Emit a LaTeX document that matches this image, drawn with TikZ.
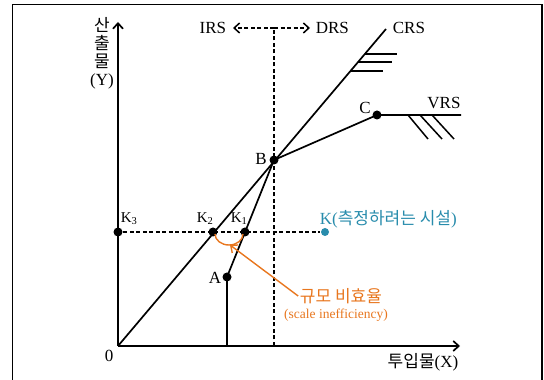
\documentclass[tikz,border=0pt]{standalone}
\usepackage{fontspec}
\setmainfont{Liberation Serif}
\newfontfamily\kr{Noto Sans CJK KR}
\usetikzlibrary{arrows.meta}
\definecolor{scaleorange}{RGB}{232,118,30}
\definecolor{targetteal}{RGB}{40,140,172}
\tikzset{
  blackdot/.style={circle,fill=black,inner sep=0pt,minimum size=9pt},
  lbl/.style={font=\fontsize{17}{18}\selectfont,inner sep=1pt},
  klbl/.style={font=\fontsize{15}{17}\selectfont,inner sep=1pt},
  guide/.style={dash pattern=on 4pt off 2.5pt,line width=1.5pt}
}
\begin{document}
\begin{tikzpicture}[x=1pt,y=1pt,>={Straight Barb[length=5.5pt,width=10pt]},line width=1.7pt]
                \useasboundingbox (0,0) rectangle (544,380);
                \draw[line width=1.3pt] (12.5,-5) -- (12.5,375.5) -- (542,375.5) -- (542,-5);
                \coordinate (O) at (118,34);
                \coordinate (ytop) at (118,358);
                \coordinate (xend) at (460,34);
                \coordinate (crsend) at (386,351);
                \coordinate (vrsend) at (461,265);
                \coordinate (afoot) at (227,34);
                \coordinate (bfoot) at (274,34);
                \coordinate (split) at (274,352);
                \coordinate (irstip) at (233,352);
                \coordinate (drstip) at (310,352);
                \coordinate (gap) at (230,135);
                \node[blackdot] (B) at (274,220) {};
                \node[blackdot] (C) at (377,265) {};
                \node[blackdot] (A) at (227,103) {};
                \node[blackdot] (K3) at (118,148) {};
                \node[blackdot] (K2) at (213,148) {};
                \node[blackdot] (K1) at (245,148) {};
                \node[circle,fill=targetteal,inner sep=0pt,minimum size=8pt] (K) at (325,148) {};
                \draw[guide] (bfoot) -- (split);
                \draw[guide,->] (split) -- (irstip);
                \draw[guide,->] (split) -- (drstip);
                \draw[guide] (K3) -- (K);
                \draw[->] (O) -- (ytop);
                \draw[->] (O) -- (xend);
                \draw (O) -- (crsend);
                \draw (afoot) -- (A.center) -- (B.center) -- (C.center) -- (vrsend);
                \draw[line width=1.5pt] (364.5,326) -- (397,326) (358,318) -- (392,318) (351,309) -- (383,309);
                \draw[line width=1.5pt] (408,265) -- (428,241) (420,265) -- (442,241) (432,265) -- (454,241);
                \node[lbl,anchor=east] (irs) at (228,352) {IRS};
                \node[lbl,anchor=west] (drs) at (314,352) {DRS};
                \node[lbl,anchor=west] (crs) at (391,352) {CRS};
                \node[lbl] (vrs) at (444,277) {VRS};
                \node[lbl] (clbl) at (365,272) {C};
                \node[lbl] (blbl) at (261,221) {B};
                \node[lbl] (albl) at (215,102) {A};
                \node[klbl,anchor=west] (k3lbl) at (119,161) {K\textsubscript{3}};
                \node[klbl,anchor=west] (k2lbl) at (195,161) {K\textsubscript{2}};
                \node[klbl,anchor=west] (k1lbl) at (229,161) {K\textsubscript{1}};
                \node[lbl,anchor=west,text=targetteal] (klbl) at (318,161) {K({\kr 측정하려는 시설})};
                \node[lbl,align=center] (ylbl) at (102,327) {{\kr 산}\\{\kr 출}\\{\kr 물}\\(Y)};
                \node[lbl] (xlbl) at (423,18) {{\kr 투입물}(X)};
                \node[lbl] (zero) at (109,24) {0};
                \draw[scaleorange,line width=1.4pt] (215,146) arc[start angle=180,end angle=360,x radius=14,y radius=11];
                \node[lbl,text=scaleorange] (note) at (341,84) {\kr 규모 비효율};
                \node[text=scaleorange,font=\fontsize{13.5}{15}\selectfont] (notesub) at (336,65) {(scale inefficiency)};
                \draw[scaleorange,line width=1.4pt,->] (note.west) -- (gap);
            \end{tikzpicture}
\end{document}
